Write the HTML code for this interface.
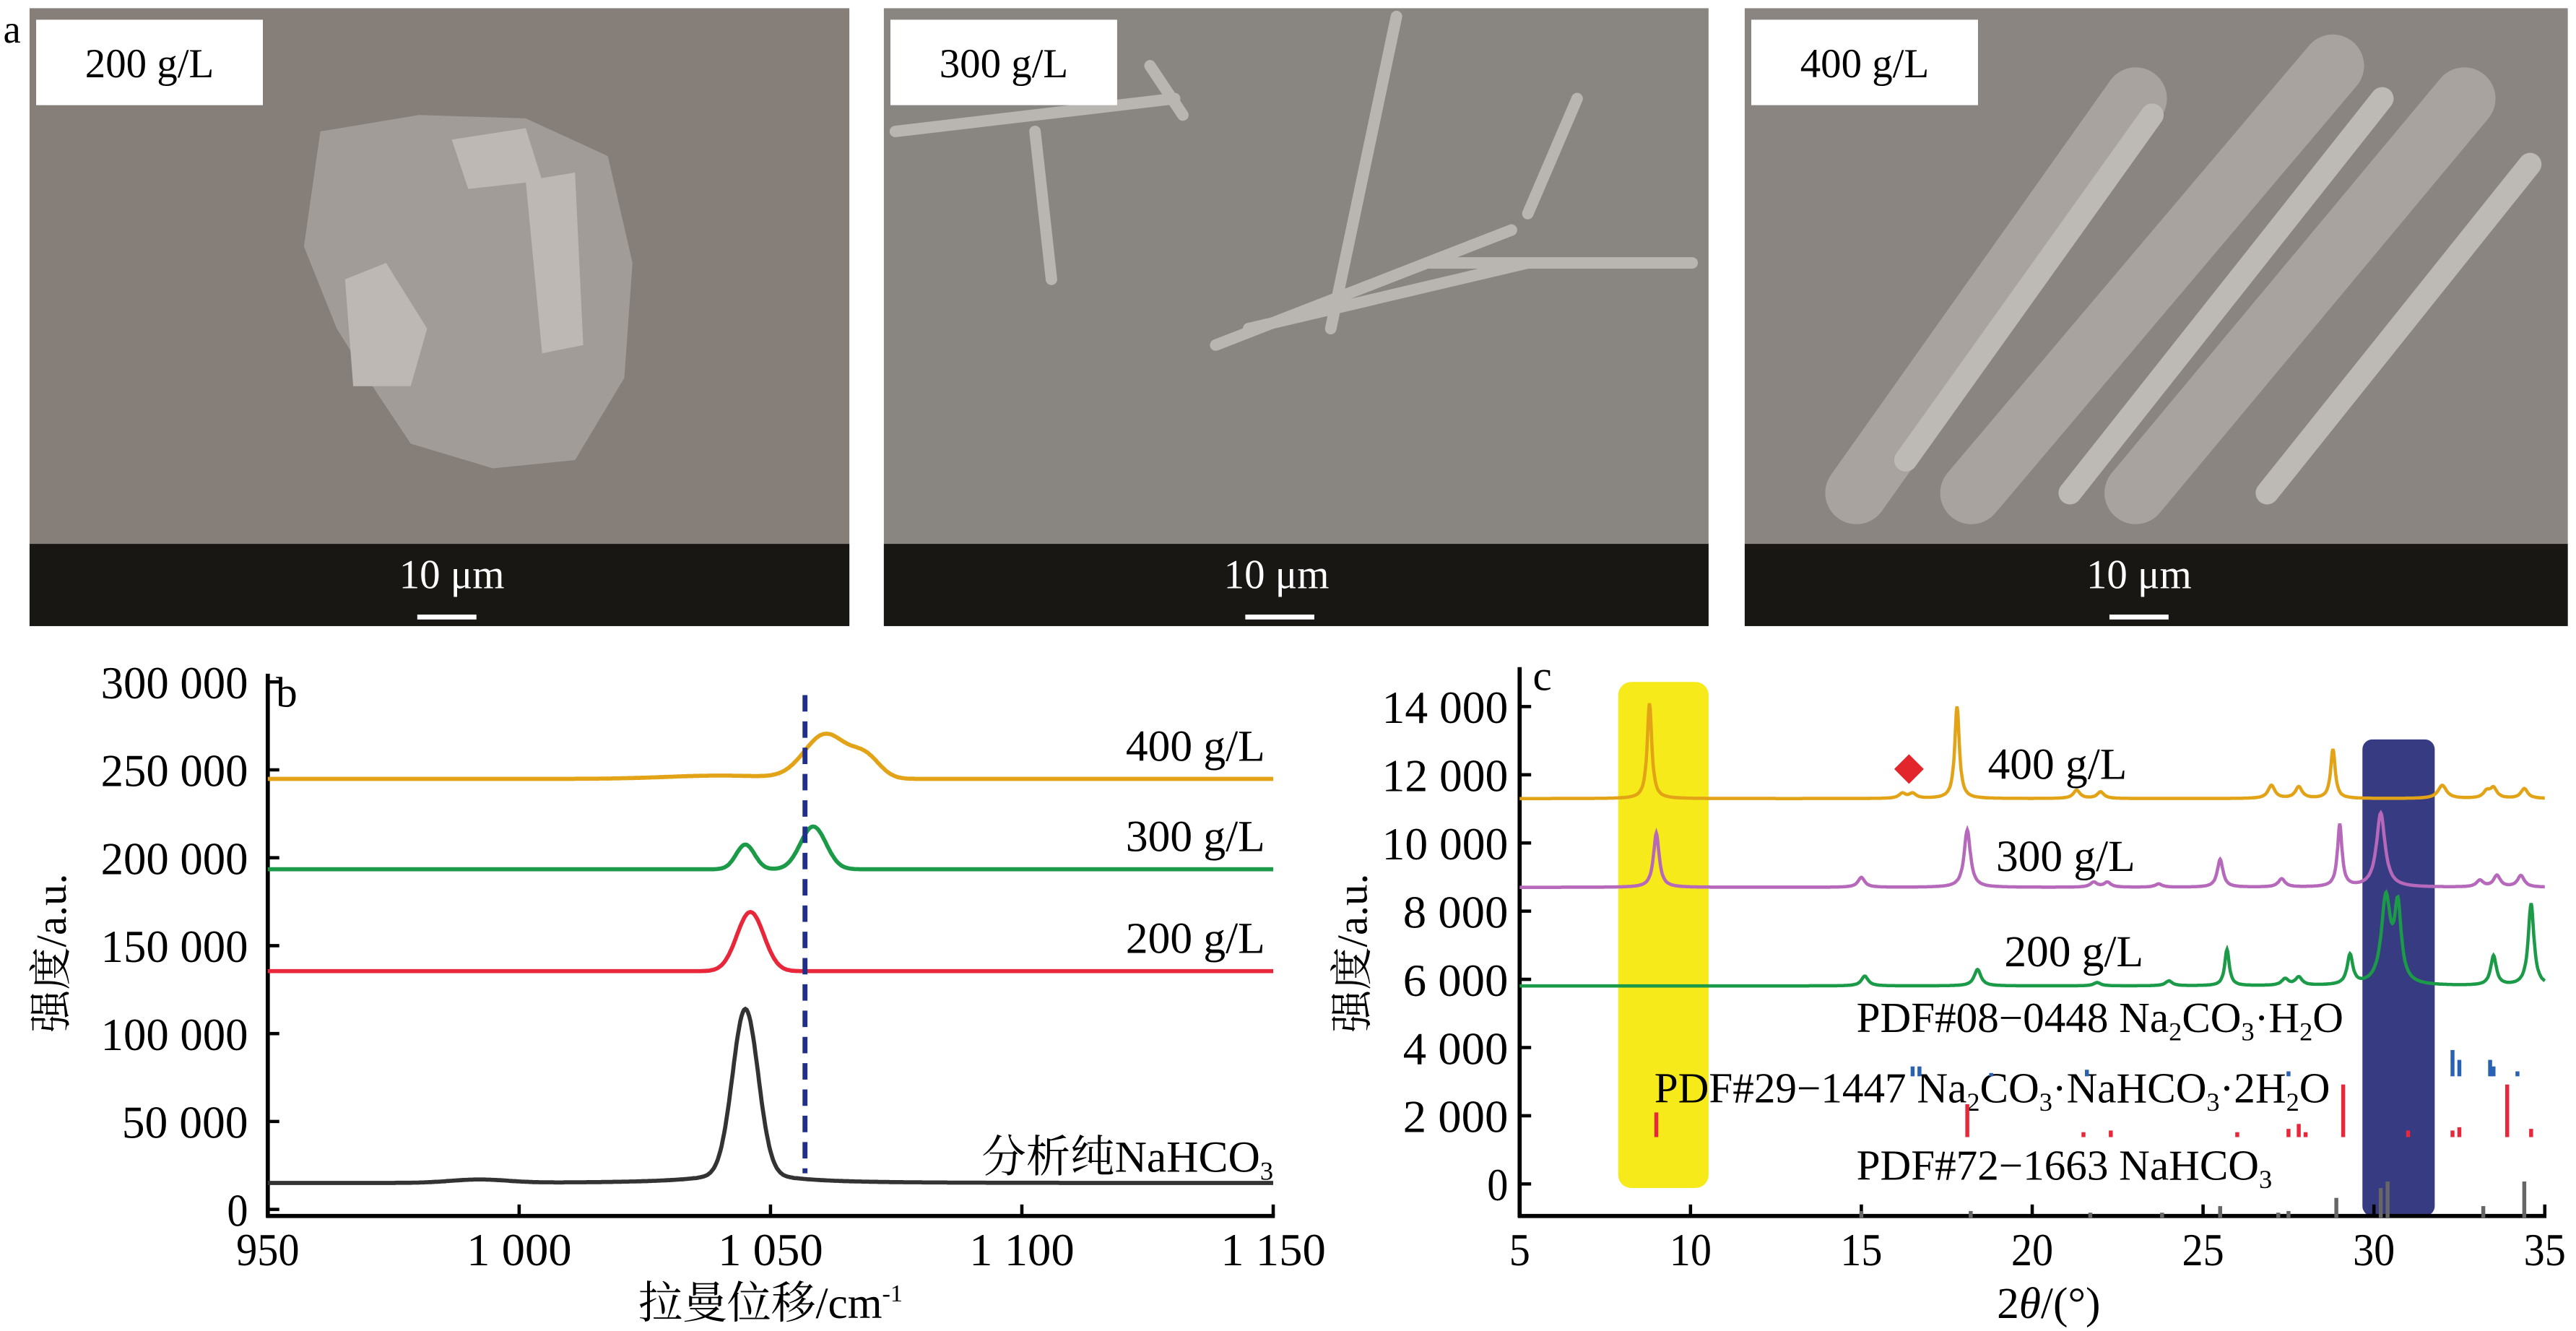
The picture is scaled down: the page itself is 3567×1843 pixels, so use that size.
<!DOCTYPE html>
<html><head><meta charset="utf-8">
<style>
html,body{margin:0;padding:0;background:#fff;}
svg{display:block;}
text{font-family:"Liberation Serif","Noto Serif CJK SC",serif;}
</style></head>
<body>
<svg id="s" width="3567" height="1843" viewBox="0 0 1568 810" preserveAspectRatio="none" xmlns="http://www.w3.org/2000/svg">
<!-- Panel a -->
<text x="2" y="26" font-size="24">a</text>
<g>
<rect x="18" y="5" width="499" height="376" fill="#857e79"/>
<g fill="#a29c98">
<polygon points="195,80 255,70 320,72 370,95 385,160 380,230 350,280 300,285 250,270 230,240 205,200 185,150"/>
</g>
<g fill="#bdb8b4">
<polygon points="210,170 235,160 260,200 250,235 215,235"/>
<polygon points="275,85 320,78 330,110 285,115"/>
<polygon points="320,110 350,105 355,210 330,215"/>
</g>
<rect x="18" y="331" width="499" height="50" fill="#191714"/>
<rect x="22" y="12" width="138" height="52" fill="#fff"/>
<text x="91" y="47" font-size="25" text-anchor="middle">200 g/L</text>
<text x="275" y="358" font-size="25" text-anchor="middle" fill="#fff">10 μm</text>
<rect x="254" y="374" width="36" height="3" fill="#fff"/>
</g>
<g>
<rect x="538" y="5" width="502" height="376" fill="#898580"/>
<g stroke="#b9b5b1" stroke-width="7" stroke-linecap="round">
<line x1="545" y1="80" x2="715" y2="60"/>
<line x1="630" y1="80" x2="640" y2="170"/>
<line x1="740" y1="210" x2="920" y2="140"/>
<line x1="760" y1="200" x2="930" y2="160"/>
<line x1="850" y1="10" x2="810" y2="200"/>
<line x1="870" y1="160" x2="1030" y2="160"/>
<line x1="700" y1="40" x2="720" y2="70"/>
<line x1="960" y1="60" x2="930" y2="130"/>
</g>
<rect x="538" y="331" width="502" height="50" fill="#191714"/>
<rect x="542" y="12" width="138" height="52" fill="#fff"/>
<text x="611" y="47" font-size="25" text-anchor="middle">300 g/L</text>
<text x="777" y="358" font-size="25" text-anchor="middle" fill="#fff">10 μm</text>
<rect x="758" y="374" width="42" height="3" fill="#fff"/>
</g>
<g>
<rect x="1062" y="5" width="501" height="376" fill="#8a8580"/>
<g stroke="#a8a39e" stroke-width="38" stroke-linecap="round">
<line x1="1130" y1="300" x2="1300" y2="60"/>
<line x1="1200" y1="300" x2="1420" y2="40"/>
<line x1="1300" y1="300" x2="1500" y2="60"/>
</g>
<g stroke="#bdb9b5" stroke-width="14" stroke-linecap="round">
<line x1="1160" y1="280" x2="1310" y2="70"/>
<line x1="1260" y1="300" x2="1450" y2="60"/>
<line x1="1380" y1="300" x2="1540" y2="100"/>
</g>
<rect x="1062" y="331" width="501" height="50" fill="#191714"/>
<rect x="1066" y="12" width="138" height="52" fill="#fff"/>
<text x="1135" y="47" font-size="25" text-anchor="middle">400 g/L</text>
<text x="1302" y="358" font-size="25" text-anchor="middle" fill="#fff">10 μm</text>
<rect x="1284" y="374" width="36" height="3" fill="#fff"/>
</g>

<!-- Panel b -->
<g id="pb" font-size="24">
<line x1="163" y1="410" x2="163" y2="741" stroke="#000" stroke-width="2.5"/>
<line x1="162" y1="740" x2="776" y2="740" stroke="#000" stroke-width="2.5"/>
<text x="168" y="430" font-size="26">b</text>
<text transform="translate(40,580) rotate(-90)" text-anchor="middle" font-size="26">强度/a.u.</text>
<text x="469" y="802" text-anchor="middle" font-size="27">拉曼位移/cm<tspan dy="-10" font-size="15">-1</tspan></text>
</g>

<!-- Panel c -->
<g id="pc" font-size="24">
<rect x="985" y="415" width="55" height="308" rx="8" fill="#f7ea1a"/>
<rect x="1438" y="450" width="44" height="290" rx="6" fill="#373b82"/>
<line x1="925" y1="406" x2="925" y2="741" stroke="#000" stroke-width="2.5"/>
<line x1="924" y1="740" x2="1550" y2="740" stroke="#000" stroke-width="2.5"/>
<text x="933" y="420" font-size="26">c</text>
<polygon points="1162,459 1171,468 1162,477 1153,468" fill="#e3262b"/>
<text x="1210" y="474" font-size="27">400 g/L</text>
<text x="1215" y="530" font-size="27">300 g/L</text>
<text x="1220" y="588" font-size="27">200 g/L</text>
<text x="1130" y="628" font-size="26">PDF#08−0448 Na<tspan dy="5" font-size="16">2</tspan><tspan dy="-5">CO</tspan><tspan dy="5" font-size="16">3</tspan><tspan dy="-5">·H</tspan><tspan dy="5" font-size="16">2</tspan><tspan dy="-5">O</tspan></text>
<text x="1007" y="671" font-size="26">PDF#29−1447 Na<tspan dy="5" font-size="16">2</tspan><tspan dy="-5">CO</tspan><tspan dy="5" font-size="16">3</tspan><tspan dy="-5">·NaHCO</tspan><tspan dy="5" font-size="16">3</tspan><tspan dy="-5">·2H</tspan><tspan dy="5" font-size="16">2</tspan><tspan dy="-5">O</tspan></text>
<text x="1130" y="718" font-size="26">PDF#72−1663 NaHCO<tspan dy="5" font-size="16">3</tspan></text>
<text transform="translate(832,580) rotate(-90)" text-anchor="middle" font-size="26">强度/a.u.</text>
<text x="1247" y="802" text-anchor="middle" font-size="27">2<tspan font-style="italic">θ</tspan>/(°)</text>
</g>
</svg>
<script>
var NS="http://www.w3.org/2000/svg";
function el(p,t,a,txt){var e=document.createElementNS(NS,t);for(var k in a)e.setAttribute(k,a[k]);if(txt!=null)e.textContent=txt;document.getElementById(p).appendChild(e);return e;}
function lab(p,x,y,s,anchor){return el(p,"text",{x:x,y:y,"text-anchor":anchor,"font-size":28,textLength:(s.length*12.8).toFixed(1),lengthAdjust:"spacingAndGlyphs"},s);}
// Panel b
function bx(v){return 163+(v-950)*3.06;}
function by(v){return 736-v*53.5/50000;}
[0,50000,100000,150000,200000,250000,300000].forEach(function(v){var y=by(v);el("pb","line",{x1:163,y1:y,x2:170,y2:y,stroke:"#000","stroke-width":2});
lab("pb",151,y+10,v==0?"0":(v/1000).toFixed(0)+" 000","end");});
[950,1000,1050,1100,1150].forEach(function(v){var x=bx(v);el("pb","line",{x1:x,y1:740,x2:x,y2:733,stroke:"#000","stroke-width":2});
var s=v>=1000?"1 "+String(v).slice(1):String(v);lab("pb",x,770,s,"middle");});
function L(x,c,w){return 1/(1+Math.pow((x-c)/w,2));}
function G(x,c,w){return Math.exp(-Math.pow((x-c)/w,2));}
function curve(p,fx,x0,x1,f,col,sw){var d="";for(var x=x0;x<=x1;x+=0.25){d+=(d?"L":"M")+fx(x).toFixed(1)+","+f(x).toFixed(1);}el(p,"path",{d:d,fill:"none",stroke:col,"stroke-width":sw});}
curve("pb",bx,950,1150,function(x){return 474-27*G(x,1061,6)-12*G(x,1069,4)-2*G(x,1040,15);},"#e2a317",2.5);
curve("pb",bx,950,1150,function(x){return 529-15*G(x,1045,2.6)-26*G(x,1058.5,3.6);},"#1b9a48",2.5);
curve("pb",bx,950,1150,function(x){return 591-36*G(x,1046,3.8);},"#e8283a",2.5);
curve("pb",bx,950,1150,function(x){return 720-100*G(x,1045,3.6)-6*L(x,1045,10)-2*G(x,992,8);},"#333",2.5);
el("pb","line",{x1:490,y1:423,x2:490,y2:714,stroke:"#1f2f8a","stroke-width":3,"stroke-dasharray":"10,6"});
el("pb","text",{x:770,y:463,"text-anchor":"end","font-size":27},"400 g/L");
el("pb","text",{x:770,y:518,"text-anchor":"end","font-size":27},"300 g/L");
el("pb","text",{x:770,y:580,"text-anchor":"end","font-size":27},"200 g/L");
var t=el("pb","text",{x:775,y:713,"text-anchor":"end","font-size":27},"分析纯NaHCO");
var ts=document.createElementNS(NS,"tspan");ts.setAttribute("dy","5");ts.setAttribute("font-size","16");ts.textContent="3";t.appendChild(ts);
// Panel c
function cx(v){return 925+(v-5)*20.8;}
function cy(v){return 720.5-v*0.02075;}
[0,2000,4000,6000,8000,10000,12000,14000].forEach(function(v){var y=cy(v);el("pc","line",{x1:925,y1:y,x2:932,y2:y,stroke:"#000","stroke-width":2});
lab("pc",918,y+10,v==0?"0":(v/1000)+" 000","end");});
[5,10,15,20,25,30,35].forEach(function(v){var x=cx(v);el("pc","line",{x1:x,y1:740,x2:x,y2:733,stroke:"#000","stroke-width":2});
lab("pc",x,770,String(v),"middle");});
function pk(list){return function(x){var s=0;list.forEach(function(p){s+=p[1]*L(x,p[0],p[2]||0.12);});return s;};}
function cc(base,list,col){var f=pk(list);var d="";for(var x=5;x<=35;x+=0.02){d+=(d?"L":"M")+cx(x).toFixed(1)+","+(base-f(x)).toFixed(1);}el("pc","path",{d:d,fill:"none",stroke:col,"stroke-width":2});}
cc(486,[[8.8,58,0.08],[17.8,56,0.08],[28.8,30,0.08],[21.3,5],[22,4],[16.2,3],[16.5,3],[27,8],[27.8,7],[32,8,0.15],[33.5,6],[33.3,4],[34.4,6]],"#e2a317");
cc(540,[[9,33,0.1],[18.1,35,0.11],[29,38,0.08],[30.2,45,0.15],[25.5,17,0.1],[15,6],[27.3,5],[21.8,3],[22.2,3],[23.7,2],[33.1,4],[33.6,7],[34.3,7]],"#b668ba");
cc(600,[[30.35,52,0.16],[30.7,45,0.12],[34.6,50,0.1],[25.7,22,0.08],[29.3,18,0.1],[33.5,18,0.1],[18.4,10],[15.1,6],[27.4,4],[27.8,5],[21.9,2],[24,3]],"#1b9a48");
function st(list,col,base){list.forEach(function(p){el("pc","rect",{x:cx(p[0])-1.2,y:base-p[1],width:2.4,height:p[1],fill:col});});}
st([[16.5,6],[16.7,6],[18.8,2],[21.6,4],[27.5,3],[32.3,16],[32.5,10],[33.4,10],[33.5,6],[34.2,3]],"#2a62b3",655);
st([[9,15],[18.1,20],[21.5,3],[22.3,4],[26,3],[27.5,5],[27.8,8],[28,3],[29.1,32],[31,4],[32.3,4],[32.5,6],[33.9,32],[34.6,5]],"#e8283a",692);
st([[15,4],[18.2,4],[21.7,3],[23.8,3],[25.5,7],[27.2,3],[27.5,4],[28.9,12],[30.2,18],[30.4,22],[33.2,7],[34.4,22]],"#666",741);
</script>
</body></html>
